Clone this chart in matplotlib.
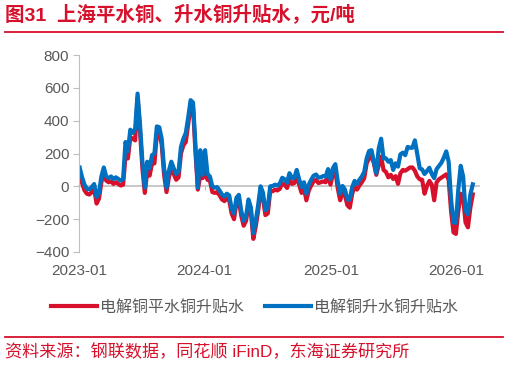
import numpy as np
import pandas as pd
import matplotlib
matplotlib.use("Agg")
import matplotlib.pyplot as plt
import matplotlib.dates as mdates

plt.rcParams['font.family'] = ['Liberation Sans', 'Noto Sans CJK SC', 'DejaVu Sans']

# Weekly spreads, yuan/ton
start_date = "2023-01-03"
series_names = ["电解铜平水铜升贴水", "电解铜升水铜升贴水"]

flat_copper = [40, 20, -25, -45, -50, -35, -15, -105, -75, 25,
               85, 35, 25, 30, 15, 25, 15, 5, 10, 185,
               170, 300, 290, 280, 540, 340, 110, -40, 90, 65,
               140, 140, 320, 330, 255, 70, -35, 55, 115, 75,
               40, 55, 200, 250, 270, 380, 490, 480, 210, -20,
               65, 50, 80, 40, 35, -35, -40, -35, -55, -80,
               -90, -75, -85, -165, -200, -100, -85, -180, -240, -210,
               -110, -160, -320, -245, -150, -25, -70, -175, -165, -30,
               -30, -20, -25, -15, 20, 10, -10, 45, 15, 20,
               60, 10, -40, -10, -85, -25, 5, 30, 40, 20,
               25, 30, 25, 70, 10, 75, 95, -10, -85, -35,
               -55, -115, -130, -45, 0, -20, 5, 25, 50, 140,
               170, 185, 140, 70, 130, 180, 100, 88, 55, 70,
               45, 62, 15, 80, 100, 95, 105, 115, 115, 95,
               60, 43, 40, -45, 2, 33, 10, -85, 25, 43,
               53, 63, 73, 40, -150, -280, -290, -150, -45, -70,
               -220, -250, -130, -49]

premium_copper = [114, 55, 10, -15, -18, -5, 14, -65, -40, 60,
                  115, 60, 50, 60, 45, 55, 45, 35, 43, 270,
                  215, 345, 325, 350, 565, 380, 150, -8, 150, 110,
                  190, 200, 365, 360, 290, 110, -8, 95, 150, 110,
                  75, 90, 240, 290, 325, 420, 525, 510, 250, -8,
                  220, 70, 220, 75, 60, 0, -8, -5, -25, -50,
                  -62, -45, -55, -135, -165, -70, -52, -150, -210, -180,
                  -80, -130, -285, -210, -115, 0, -38, -145, -130, 0,
                  2, 10, 4, 18, 52, 43, 22, 80, 50, 52,
                  100, 43, -5, 25, -45, 10, 40, 65, 72, 53,
                  55, 63, 60, 105, 43, 110, 135, 30, -45, 2,
                  -20, -80, -80, -5, 33, 15, 40, 60, 88, 170,
                  215, 220, 150, 80, 230, 290, 170, 170, 150, 160,
                  100, 140, 120, 195, 205, 190, 240, 235, 235, 280,
                  195, 110, 103, 75, 93, 113, 75, 50, 105, 125,
                  144, 175, 213, 150, -80, -220, -222, -20, 125, 60,
                  -150, -170, -50, 12]

dates = pd.date_range(start_date, periods=len(premium_copper), freq="7D")

RED = "#D7102B"
BLUE = "#0070C0"
GREY = "#595959"

fig = plt.figure(figsize=(5.09, 3.65), dpi=100)
ax = fig.add_axes([0.1552, 0.3096, 0.7858, 0.5397])

ax.plot(dates, flat_copper, color=RED, lw=3, label=series_names[0], solid_joinstyle="round")
ax.plot(dates, premium_copper, color=BLUE, lw=3, label=series_names[1], solid_joinstyle="round")

ax.set_ylim(-400, 800)
ax.set_yticks(np.arange(-400, 801, 200))
ax.set_xlim(pd.Timestamp("2023-01-01"), pd.Timestamp("2026-03-07"))
year_ticks = pd.to_datetime(["2023-01-01", "2024-01-01", "2025-01-01", "2026-01-01"])

# x axis line sits at zero, labels at the bottom
ax.spines['bottom'].set_position(('data', 0))
ax.spines['bottom'].set_color("#BFBFBF")
ax.spines['bottom'].set_linewidth(1.2)
ax.spines['bottom'].set_zorder(0)
ax.set_xticks(year_ticks)
ax.tick_params(axis='x', length=3, color="#BFBFBF", labelbottom=False)
sec = ax.secondary_xaxis('bottom')
sec.set_xticks(year_ticks)
sec.xaxis.set_major_formatter(mdates.DateFormatter("%Y-%m"))
sec.spines['bottom'].set_visible(False)
sec.tick_params(length=0, pad=9, labelsize=11, labelcolor=GREY)

for s in ['top', 'right']:
    ax.spines[s].set_visible(False)
ax.spines['left'].set_color("#BFBFBF")
ax.tick_params(axis='y', length=4, color="#BFBFBF", labelsize=11, labelcolor=GREY, pad=3)

# title, rules and source
fig.text(0.01, 0.962, "图31  上海平水铜、升水铜升贴水，元/吨", color=RED, fontsize=14,
         fontweight="bold", va="center", ha="left")
fig.add_artist(plt.Line2D([0.01, 0.988], [0.912, 0.912], color=RED, lw=1.3))
fig.add_artist(plt.Line2D([0.01, 0.988], [0.077, 0.077], color=RED, lw=1.3))
fig.text(0.01, 0.035, "资料来源：钢联数据，同花顺 iFinD，东海证券研究所", color=RED,
         fontsize=12.3, va="center", ha="left")

leg = fig.legend(loc="center", bbox_to_anchor=(0.5, 0.159), ncol=2, frameon=False,
                 fontsize=11.5, handlelength=2.9, columnspacing=1.3, handletextpad=0.2)
for t in leg.get_texts():
    t.set_color(GREY)

fig.savefig("out.png", dpi=100)
